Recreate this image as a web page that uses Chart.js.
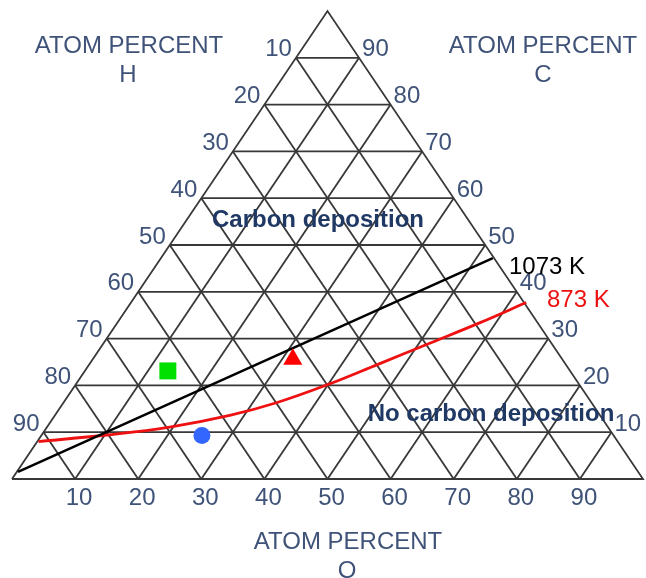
<!DOCTYPE html>
<html>
<head>
<meta charset="utf-8">
<script src="https://cdn.jsdelivr.net/npm/chart.js@4"></script>
<style>
  body { margin: 0; background: #fff; }
  canvas { display: block; }
</style>
</head>
<body>
<canvas id="chart-ternary" width="646" height="578"></canvas>
<script>
// ternary diagram drawn in plot units: x = 0..100 along the base, y = 0..100 height
let bottomTicks = [10, 20, 30, 40, 50, 60, 70, 80, 90]
let leftTicks = [10, 20, 30, 40, 50, 60, 70, 80, 90]   // top to bottom
let rightTicks = [90, 80, 70, 60, 50, 40, 30, 20, 10]  // top to bottom

let line1073 = [[0.95, 1.5], [76.2, 47.2]]
let curve873 = [[4.2, 8.0], [15.0, 9.4], [25.0, 11.1], [34.5, 13.6], [41.9, 16.3],
                [49.9, 20.1], [58.0, 24.5], [66.0, 28.9], [74.0, 33.3], [81.5, 37.7]]

let squarePoint = [24.7, 23.1]
let trianglePoint = [44.5, 25.6]
let circlePoint = [30.1, 9.3]

let toXY = (arr) => arr.map(p => ({x: p[0], y: p[1]}))

let gridColor = "#383838"
let datasets = []

// markers first so they sit on top
datasets.push({data: toXY([squarePoint]), pointStyle: "rect", pointRadius: 12,
    backgroundColor: "#00e000", borderWidth: 0, showLine: false})
datasets.push({data: toXY([trianglePoint]), pointStyle: "triangle", pointRadius: 11,
    backgroundColor: "#ff0000", borderWidth: 0, showLine: false})
datasets.push({data: toXY([circlePoint]), pointStyle: "circle", pointRadius: 8.5,
    backgroundColor: "#3366ff", borderWidth: 0, showLine: false})

datasets.push({data: toXY(line1073), showLine: true, borderColor: "#000", borderWidth: 2.5, pointRadius: 0})
datasets.push({data: toXY(curve873), showLine: true, borderColor: "#ee1111", borderWidth: 2.8,
    pointRadius: 0, tension: 0.4})

// triangle outline
datasets.push({data: [{x: 0, y: 0}, {x: 100, y: 0}, {x: 50, y: 100}, {x: 0, y: 0}],
    showLine: true, borderColor: gridColor, borderWidth: 1.8, pointRadius: 0})

for (let i = 1; i < 10; i++) {
    let t = i * 10
    // horizontal
    datasets.push({data: [{x: t / 2, y: t}, {x: 100 - t / 2, y: t}]})
    // parallel to left side
    datasets.push({data: [{x: t, y: 0}, {x: 50 + t / 2, y: 100 - t}]})
    // parallel to right side
    datasets.push({data: [{x: t, y: 0}, {x: t / 2, y: t}]})
}
datasets.forEach(d => {
    if (d.showLine === undefined) {
        d.showLine = true
        d.borderColor = gridColor
        d.borderWidth = 1.8
        d.pointRadius = 0
    }
    d.clip = false
})

let labelPlugin = {
    id: "ternaryLabels",
    afterDatasetsDraw(chart) {
        let ctx = chart.ctx
        let sx = chart.scales.x, sy = chart.scales.y
        let px = v => sx.getPixelForValue(v)
        let py = v => sy.getPixelForValue(v)
        let tickColor = "#3f5378"
        ctx.save()
        ctx.fillStyle = tickColor
        ctx.font = "24px 'Liberation Sans', Arial, sans-serif"
        ctx.textBaseline = "middle"

        // left side (H)
        ctx.textAlign = "right"
        leftTicks.forEach((lab, i) => {
            let h = 90 - i * 10
            ctx.fillText(String(lab), px(h / 2) - 4, py(h) - 8)
        })
        // right side (C)
        ctx.textAlign = "left"
        rightTicks.forEach((lab, i) => {
            let h = 90 - i * 10
            ctx.fillText(String(lab), px(100 - h / 2) + 3, py(h) - 8)
        })
        // bottom (O)
        ctx.textAlign = "center"
        bottomTicks.forEach(lab => {
            ctx.fillText(String(lab), px(lab) + 4, py(0) + 19)
        })

        // axis titles
        ctx.fillText("ATOM PERCENT", 129, 46)
        ctx.fillText("H", 128, 75)
        ctx.fillText("ATOM PERCENT", 543, 46)
        ctx.fillText("C", 543, 75)
        ctx.fillText("ATOM PERCENT", 348, 542)
        ctx.fillText("O", 347, 571)

        // region labels
        ctx.fillStyle = "#1f3864"
        ctx.font = "bold 24px 'Liberation Sans', Arial, sans-serif"
        ctx.fillText("Carbon deposition", 318, 220)
        ctx.fillText("No carbon deposition", 491, 414)

        // curve labels
        ctx.textAlign = "left"
        ctx.font = "24px 'Liberation Sans', Arial, sans-serif"
        ctx.fillStyle = "#000"
        ctx.fillText("1073 K", 509, 267)
        ctx.fillStyle = "#ee1111"
        ctx.fillText("873 K", 547, 300)
        ctx.restore()
    }
}

let ternaryChart = new Chart(
    document.getElementById("chart-ternary").getContext("2d"),
    {
        type: "scatter",
        data: {datasets: datasets},
        options: {
            responsive: false,
            animation: false,
            devicePixelRatio: 1,
            layout: {autoPadding: false, padding: {left: 12, right: 3, top: 11, bottom: 99}},
            scales: {
                x: {type: "linear", min: 0, max: 100, display: false},
                y: {type: "linear", min: 0, max: 100, display: false}
            },
            plugins: {
                legend: {display: false},
                tooltip: {enabled: false}
            }
        },
        plugins: [labelPlugin]
    }
)
</script>
</body>
</html>
